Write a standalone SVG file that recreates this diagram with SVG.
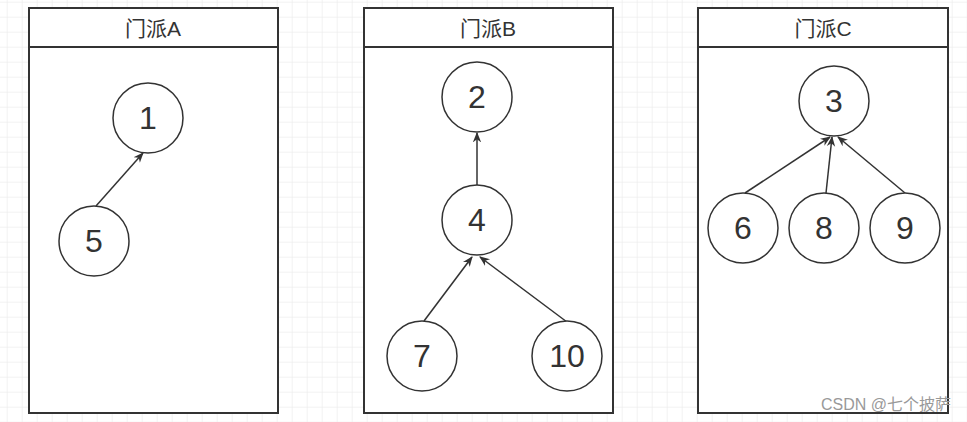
<svg xmlns="http://www.w3.org/2000/svg" width="967" height="422" viewBox="0 0 967 422">
<defs>
<pattern id="g" x="6.7" y="1.7" width="15" height="15" patternUnits="userSpaceOnUse"><path d="M0 0H15M0 0V15" fill="none" stroke="#e6e6e6" stroke-width="1"/></pattern>
<marker id="a" viewBox="0 0 10 10" refX="9" refY="5" markerWidth="7" markerHeight="7" orient="auto"><path d="M0 1L10 5L0 9L3 5Z" fill="#333"/></marker>
</defs>
<style>
.box{fill:#fff;stroke:#333;stroke-width:2}
.c{fill:#fff;stroke:#333;stroke-width:1.5}
.t{font-family:"Liberation Sans","Noto Sans CJK SC",sans-serif;fill:#333;text-anchor:middle}
.n{font-size:32px}
.h{font-size:21px}
.e{stroke:#333;stroke-width:1.5;fill:none;marker-end:url(#a)}
</style>
<rect width="967" height="422" fill="#fff"/>
<rect width="967" height="422" fill="url(#g)"/>
<g id="poolA"><rect class="box" x="29" y="8" width="249" height="405"/><line x1="29" y1="47" x2="278" y2="47" stroke="#333" stroke-width="2"/><text class="t h" x="153" y="36">门派A</text></g>
<g id="poolB"><rect class="box" x="364" y="8" width="249" height="405"/><line x1="364" y1="47" x2="613" y2="47" stroke="#333" stroke-width="2"/><text class="t h" x="488" y="36">门派B</text></g>
<g id="poolC"><rect class="box" x="698" y="8" width="250" height="405"/><line x1="698" y1="47" x2="948" y2="47" stroke="#333" stroke-width="2"/><text class="t h" x="823" y="36">门派C</text></g>
<g id="edges">
<line class="e" x1="96" y1="206" x2="143" y2="153"/>
<line class="e" x1="477" y1="185" x2="477" y2="133"/>
<line class="e" x1="424" y1="321" x2="472" y2="257"/>
<line class="e" x1="567" y1="322" x2="480" y2="257"/>
<line class="e" x1="745" y1="193" x2="830" y2="137"/>
<line class="e" x1="826" y1="193" x2="832" y2="137"/>
<line class="e" x1="905" y1="193" x2="838" y2="137"/>
</g>
<g id="n1"><circle class="c" cx="148" cy="118" r="35"/><text class="t n" x="148" y="129">1</text></g>
<g id="n5"><circle class="c" cx="94" cy="241" r="35"/><text class="t n" x="94" y="252">5</text></g>
<g id="n2"><circle class="c" cx="477" cy="97" r="35"/><text class="t n" x="477" y="108">2</text></g>
<g id="n4"><circle class="c" cx="477" cy="220" r="35"/><text class="t n" x="477" y="231">4</text></g>
<g id="n7"><circle class="c" cx="422" cy="356" r="35"/><text class="t n" x="422" y="367">7</text></g>
<g id="n10"><circle class="c" cx="567" cy="356" r="35"/><text class="t n" x="567" y="367">10</text></g>
<g id="n3"><circle class="c" cx="834" cy="101" r="35"/><text class="t n" x="834" y="112">3</text></g>
<g id="n6"><circle class="c" cx="743" cy="228" r="35"/><text class="t n" x="743" y="239">6</text></g>
<g id="n8"><circle class="c" cx="824" cy="228" r="35"/><text class="t n" x="824" y="239">8</text></g>
<g id="n9"><circle class="c" cx="905" cy="228" r="35"/><text class="t n" x="905" y="239">9</text></g>
<text x="951" y="410" font-family="Liberation Sans,Noto Sans CJK SC,sans-serif" font-size="16" fill="#999" text-anchor="end">CSDN @七个披萨</text>
</svg>
